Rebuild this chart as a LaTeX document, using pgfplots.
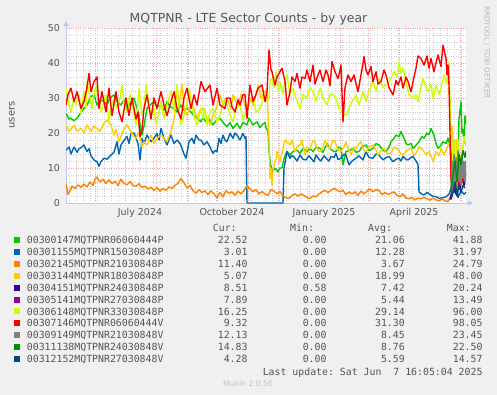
\documentclass[border=0pt]{standalone}
\usepackage{fontspec}
\setmainfont{DejaVu Sans}
\setmonofont{DejaVu Sans Mono}
\usepackage{pgfplots}
\pgfplotsset{compat=1.18}
\usetikzlibrary{arrows.meta}
\definecolor{bgc}{HTML}{F0F0F0}
\definecolor{txt}{HTML}{555555}
\definecolor{mgridc}{HTML}{EBA0A0}
\definecolor{gridc}{HTML}{D0D0D0}
\definecolor{axl}{HTML}{C4C4F4}
\definecolor{s1}{HTML}{00CC00}
\definecolor{s2}{HTML}{0066B3}
\definecolor{s3}{HTML}{FF8000}
\definecolor{s4}{HTML}{FFCC00}
\definecolor{s5}{HTML}{330099}
\definecolor{s6}{HTML}{990099}
\definecolor{s7}{HTML}{CCFF00}
\definecolor{s8}{HTML}{FF0000}
\definecolor{s9}{HTML}{808080}
\definecolor{s10}{HTML}{008F00}
\definecolor{s11}{HTML}{00487D}
\begin{document}
\begin{tikzpicture}
\fill[bgc] (0bp,0bp) rectangle (497bp,-395bp);
\begin{axis}[at={(66bp,-203bp)}, anchor=south west, scale only axis,
  width=400bp, height=175bp,
  xmin=0, xmax=400, ymin=0, ymax=50,
  axis background/.style={fill=white},
  axis x line=bottom, axis y line=left,
  axis line style={draw=axl, line width=0.8bp, -{Triangle[width=5bp,length=5bp]}, shorten >=-7bp},
  ytick={0,10,20,30,40,50},
  minor ytick={2,4,6,8,12,14,16,18,22,24,26,28,32,34,36,38,42,44,46,48},
  xtick={29,59,90,121,151,182,212,243,274,302,333,363,394},
  xticklabels={},
  minor xtick={3,10,...,399},
  extra x ticks={74,166,258,348},
  extra x tick labels={July 2024,October 2024,January 2025,April 2025},
  extra x tick style={grid=none},
  grid=both,
  major grid style={draw=mgridc, dotted, line width=0.6bp},
  minor grid style={draw=gridc, dotted, line width=0.6bp},
  major tick length=0pt, minor tick length=0pt,
  tick label style={font=\fontsize{9.5}{11}\selectfont, text=txt},
  yticklabel style={xshift=-2.5bp},
  xticklabel style={yshift=-1.5bp},
  /pgf/number format/assume math mode=true,
  every axis plot/.append style={no marks, line width=1.4bp, line join=round},
]
% 1 green
\addplot[s1] coordinates {(0,25.6)(3,24)(5,24.2)(8,23.5)(11,24.2)(14,25.5)(18,27)(21,28)(25,30.4)(28,30.9)(31,28)(34,29.5)(38,29)(41,28)(44,30)(48,30.9)(51,29)(55,28)(58,29.5)(61,27)(64,28.5)(68,29.9)(71,27)(73,25.1)(75,20)(76,19.4)(78,22)(81,27)(84,28)(88,29)(91,27.5)(95,28)(98,26.5)(101,29)(104,27.5)(108,27)(111,26)(115,28)(118,26.5)(121,27)(125,26)(128,25)(131,24.2)(135,23.2)(137,24.5)(140,23.2)(143,24)(147,22.3)(150,23.5)(154,24.2)(157,23)(161,21.8)(164,23)(167,21.3)(171,22.8)(174,21.3)(177,23)(181,22.3)(183,24.2)(187,22.3)(191,23.2)(194,21.5)(196,22.3)(199,23)(200,21.5)(202,20.4)(203,15)(204,12)(206,9)(209,9.9)(212,8.9)(214,10)(216,10)(218,12.8)(221,14.7)(224,13.7)(227,14.7)(231,15.1)(234,14.2)(237,15.6)(241,14.7)(244,15.6)(247,14.7)(250,16)(254,15.6)(257,14.5)(261,17)(264,15.5)(268,14.7)(270,14.7)(273,16)(275,15.6)(277,10.9)(280,14.7)(284,15)(287,15.6)(290,14.5)(293,14.7)(296,16)(300,16.6)(303,15)(307,15.6)(310,17)(313,16.6)(317,15)(320,14.7)(323,16)(325,17.5)(328,18.5)(330,19.4)(333,19)(335,20.4)(338,18.5)(340,17)(342,16.6)(345,17)(347,15.6)(350,16.5)(353,17.5)(356,19)(358,18.5)(361,20)(363,19.5)(365,21.3)(368,19.4)(370,17)(372,15.6)(375,16.5)(377,17.5)(380,17)(382,18.5)(384,16)(385,14.7)(387,8)(389,15)(390,18)(392,13)(393,24)(395,29)(396,20)(397,21)(398,17)(399,25)(400,22.52)};
% 2 blue
\addplot[s2] coordinates {(0,15.1)(3,16)(5,14)(8,16)(11,14.5)(13,15.5)(15,15.8)(18,16.6)(21,14.7)(23,15.5)(25,13.5)(28,12.3)(31,11.8)(33,10.5)(35,11.8)(38,12.8)(41,12.5)(45,13.7)(48,14.5)(51,17.5)(53,14)(55,16.6)(58,17.9)(61,19)(63,17)(65,19.9)(68,20)(70,18.5)(72,17)(74,12.3)(76,18.5)(78,17)(81,19.4)(85,17.5)(88,18.5)(91,19.9)(93,18)(95,21.3)(98,18.5)(101,16.6)(103,18)(105,19.4)(108,17)(111,18)(114,17)(116,15.6)(118,14)(120,12.8)(123,17.5)(126,18.5)(128,17)(130,19.4)(133,18)(135,18)(138,16.6)(141,17.5)(144,16)(147,14.2)(149,15)(151,14.7)(153,18.5)(155,17)(157,19.4)(159,18)(161,17.5)(164,19.9)(167,18.5)(169,20)(171,19.4)(174,18)(177,19.9)(179,18.5)(180,19)(181,0)(217,0)(218,10)(221,14.7)(224,12.8)(226,13.5)(228,13.2)(231,12)(234,13.7)(237,12.5)(240,12.3)(243,13.5)(245,12.8)(248,11.8)(250,13.7)(253,12.5)(255,12)(258,13.5)(260,12.8)(263,12)(265,13.3)(268,13)(270,14.2)(272,12.4)(275,12.8)(278,14)(280,13.7)(283,10.9)(286,12)(290,12.8)(293,13.5)(297,12.3)(300,14.7)(303,13)(307,12.8)(310,14)(313,13.7)(317,12.3)(320,13)(323,13.3)(325,12.5)(327,11.8)(330,12.5)(333,12.8)(335,12)(337,13.3)(340,12.5)(342,12.3)(345,13)(347,13.3)(350,12)(352,11)(353,3.2)(356,2.5)(358,2.3)(361,3)(363,2.7)(366,2)(370,1.8)(373,1.3)(377,1.5)(380,1.8)(383,2.5)(386,5)(389,3)(390,7)(392,1.5)(395,3.5)(398,2.5)(400,3.01)};
% 3 orange
\addplot[s3] coordinates {(0,5.5)(2,2.5)(4,3.5)(6,4.8)(9,4.2)(12,5.2)(15,4.5)(18,5.4)(21,4.6)(24,6)(27,5)(29,6.8)(31,7.4)(34,6)(37,6.8)(40,5.6)(43,6.6)(46,5.5)(49,6.2)(52,5)(55,6.8)(58,5.6)(61,5.2)(64,6.1)(67,5)(70,4.8)(73,5.5)(76,4.4)(79,4.8)(82,4)(85,4.5)(88,3.6)(91,4.4)(94,3.4)(97,4.2)(100,3.6)(103,4.6)(106,4.2)(109,5)(112,5.6)(115,7)(118,5.8)(121,4.4)(124,5)(127,3.5)(130,2.8)(133,3.8)(136,3)(139,3.5)(142,2.4)(145,3.5)(148,2.6)(151,1.5)(154,3)(157,1.8)(160,3.5)(163,2.8)(166,3.2)(169,2.2)(172,3.4)(175,2.6)(178,3.6)(181,5)(184,4)(187,3.2)(190,3.8)(193,2.6)(196,3.3)(199,2.6)(202,2.2)(205,3.8)(208,3.4)(211,2.6)(214,3.3)(217,2)(220,1.5)(223,1.3)(226,2.2)(229,2.6)(232,2)(235,2.6)(238,2.2)(241,1.6)(244,1.3)(247,2)(250,1.8)(253,2.6)(256,3.2)(259,3.6)(262,3)(265,3.6)(268,4.2)(271,3.7)(274,3.2)(277,3.6)(280,2.4)(283,3.2)(286,2.6)(289,3.2)(292,2.2)(295,3.4)(298,2.6)(301,3.4)(304,4)(307,3.2)(310,3.8)(313,3.6)(316,2.4)(319,3)(322,2.4)(325,2.8)(328,3.2)(331,2.2)(334,1.8)(337,2.6)(340,1.4)(343,1.2)(346,1.6)(349,0.9)(352,1.4)(355,1.2)(358,1.6)(361,1.2)(364,0.8)(367,1.4)(370,0.9)(373,0.6)(376,1.2)(379,0.6)(382,0.4)(385,2)(387,6)(389,12)(391,16)(393,9)(395,13)(397,8)(399,11.4)};
% 4 gold
\addplot[s4] coordinates {(0,22.3)(3,20.4)(5,21)(8,22.3)(11,20.5)(15,21.3)(18,20)(21,22.3)(25,20.4)(28,22)(31,21.3)(34,20.5)(38,22.8)(41,23.7)(45,22.3)(48,19.4)(50,21)(53,17.5)(55,19)(58,21.3)(61,22.3)(65,20.4)(68,19)(70,18.5)(72,20)(74,19.4)(76,16)(78,17.5)(81,16.6)(85,19.4)(88,17)(91,18.5)(95,19.4)(98,18.5)(101,17.5)(105,20.4)(108,24)(111,33)(113,28)(116,34)(118,27)(121,25)(125,28)(128,27)(131,24.2)(135,27)(137,27)(141,24.2)(144,22.3)(147,25)(149,26)(152,29)(154,30.9)(157,28)(160,30)(162,29)(165,27)(167,30.9)(170,29)(172,28)(175,31)(177,29.9)(179,28)(181,27)(184,30)(187,28)(190,31)(192,33.7)(195,30)(197,30.9)(199,32)(201,31.8)(202,25)(203,18)(204,7)(205,9.9)(206,5.1)(207,9)(208,11)(210,12.8)(211,14.7)(214,11.8)(217,15.6)(219,18)(221,17.5)(224,16.6)(226,18)(229,14.7)(231,16)(234,16.6)(236,18)(239,13.7)(241,16)(244,15.6)(247,17.8)(249,17.5)(252,15)(254,14.7)(257,16)(259,18)(262,16)(264,15.6)(267,18)(269,17.5)(272,15.2)(275,14.7)(278,16)(280,17.5)(283,15)(285,13.7)(288,16)(290,15.6)(293,17)(295,17.5)(298,15)(300,14.7)(303,16)(307,16.6)(310,15)(312,13.7)(315,15)(318,15.6)(321,14)(325,14.2)(328,16)(332,15.2)(335,14)(337,13.7)(341,15)(345,15.6)(348,13.5)(350,14.2)(353,16)(357,15.2)(360,13.8)(363,14.7)(365,13.5)(367,11.8)(370,14.7)(373,13.5)(375,15.6)(378,13.7)(380,15)(382,16.6)(384,17.5)(386,22)(388,14)(390,18)(392,10)(394,13)(396,6)(398,8)(400,5.07)};
% 5 purple
\addplot[s5] coordinates {(384,1)(386,3)(388,5)(390,2.5)(392,6)(394,4)(396,7)(398,5)(400,8.51)};
% 6 magenta
\addplot[s6] coordinates {(385,2)(387,5)(389,9)(391,4)(393,11)(395,6)(397,9)(399,7.89)};
% 7 yellow-green
\addplot[s7] coordinates {(0,32.8)(3,28)(5,26)(8,30)(10,28)(13,31)(15,25.6)(18,31.8)(20,27)(21,34.7)(24,30)(26,27)(28,31)(30,33.7)(33,28)(35,26)(38,29)(40,30.9)(43,23.2)(45,27)(48,30)(51,27)(54,30)(56,33.7)(58,29)(61,26)(64,31)(66,29)(68,25)(70,22.3)(73,32.8)(76,25)(78,27)(80,33.7)(83,28)(85,25)(88,27)(90,22.3)(93,26)(95,29)(98,24.2)(101,28)(105,31.8)(108,27)(111,33.7)(113,27)(115,22.3)(118,25)(120,27)(123,32.8)(126,28)(128,25)(131,22.3)(135,27)(137,24.2)(139,27)(141,22.3)(144,26)(147,27)(151,23)(154,25)(157,29)(161,28)(164,25)(167,23.2)(170,27)(174,28)(177,24)(181,26)(184,29)(187,30)(190,26)(194,27)(197,30)(201,29)(203,30)(204,35)(206,35.6)(208,33)(210,37.5)(212,32)(214,34.7)(217,31)(219,35)(221,36.6)(224,31)(227,32.8)(230,30)(234,27)(237,31)(241,30)(244,33)(247,31.8)(250,29)(254,32.8)(257,30)(261,28)(264,31)(267,30.9)(270,30)(273,27)(277,26)(280,25)(283,27)(286,29)(290,30.9)(293,28)(297,31.8)(300,29)(303,32)(307,34.7)(310,32)(313,35.6)(317,33)(320,33.7)(324,35)(328,37.5)(331,36)(333,40.4)(335,37)(337,38.5)(340,34.7)(343,31)(347,29.9)(350,31)(352,29)(355,33)(357,35.6)(360,33)(362,31.8)(365,34)(367,29.9)(370,33.7)(373,31)(375,32.8)(378,36.6)(381,34)(383,40.4)(384,30)(385,20)(387,12)(389,18)(390,9)(392,18)(394,12)(396,14)(398,19)(400,16.25)};
% 8 red
\addplot[s8] coordinates {(0,28)(2,31)(5,32.8)(8,29)(11,31.8)(15,27)(18,29)(21,33)(23,37)(25,31.8)(28,34.7)(31,36)(33,27)(36,31.8)(40,26)(43,32.8)(46,25)(50,31.8)(53,26)(56,23.2)(60,30)(63,25)(66,30)(70,24)(72,26)(74,19)(76,21)(78,27)(81,30.9)(85,24)(88,30)(91,27)(95,31.8)(98,28)(101,25)(105,29)(108,31.8)(111,27)(115,24)(118,30)(121,32.8)(125,27)(128,30.9)(131,28)(135,34.7)(139,31.8)(144,33.7)(147,28)(151,32.8)(154,28)(159,27)(161,30)(164,30)(166,27.5)(169,26)(172,29.5)(174,28)(177,31)(179,30.9)(181,24.2)(184,33.7)(187,29)(190,31)(192,32.8)(196,33.7)(199,29)(201,31.8)(203,43.7)(205,38)(206,37.5)(209,33.7)(211,36)(214,37.5)(216,38.5)(219,34.7)(221,28)(224,31.8)(226,36)(229,34.7)(231,37)(234,32.8)(236,36)(239,35.6)(241,38)(244,34.7)(247,39.4)(249,34)(252,36.6)(254,38)(257,34.7)(260,38)(262,36.6)(264,33.5)(266,40.4)(269,37.5)(272,35.6)(273,36.6)(275,39.4)(277,23.2)(279,33)(282,36.6)(285,34.7)(288,36.6)(292,31.8)(295,36.6)(298,41.8)(300,38)(302,36.6)(305,39)(307,34.7)(310,37.5)(312,34)(315,34.7)(318,38)(320,36.6)(323,33)(327,30.9)(330,35)(332,33.7)(335,36)(337,32.8)(340,36)(342,34.7)(345,31.8)(348,36)(350,38.5)(352,42)(355,41.3)(358,39.4)(361,42)(363,38.5)(365,41.3)(368,37.5)(370,40)(372,42.3)(375,39)(377,45.1)(380,41.3)(381,36.6)(382,39.4)(383,33.7)(384,20)(385,6)(387,9)(389,4)(391,8)(393,5)(395,10)(397,6)(399,9.32)};
% 9 grey
\addplot[s9] coordinates {(385,4)(386,12)(387,3)(388,14)(389,5)(390,13)(391,4)(392,15)(393,6)(394,13)(395,5)(396,14)(397,7)(398,12)(399,6)(400,12.13)};
% 10 dark green
\addplot[s10] coordinates {(385,3)(387,8)(389,12)(391,6)(393,14)(395,11)(397,15)(399,13)(400,14.83)};
% 11 dark blue
\addplot[s11] coordinates {(385,1)(387,3)(389,6)(391,2)(393,5)(395,3)(397,5)(399,4.28)};
\end{axis}
% title and labels
\node[text=txt, font=\fontsize{12.5}{14}\selectfont] at (248.5bp,-19bp) {MQTPNR - LTE Sector Counts - by year};
\node[text=txt, font=\fontsize{10}{12}\selectfont, rotate=90] at (12bp,-115bp) {users};
\node[text={rgb,255:red,185;green,185;blue,185}, font=\fontsize{7.2}{8}\selectfont, rotate=-90] at (487bp,-52.5bp) {RRDTOOL / TOBI OETIKER};
% legend
\begin{scope}[every node/.style={inner sep=0, text=txt, font=\ttfamily\fontsize{9.9}{11}\selectfont}]
\node[anchor=base west] at (212.7bp,-231.9bp) {Cur:};
\node[anchor=base west] at (290bp,-231.9bp) {Min:};
\node[anchor=base west] at (368bp,-231.9bp) {Avg:};
\node[anchor=base west] at (446.7bp,-231.9bp) {Max:};
\foreach \c/\n/\cu/\mi/\av/\ma [count=\k from 0] in {
 s1/00300147MQTPNR06060444P/22.52/0.00/21.06/41.88,
 s2/00301155MQTPNR15030848P/3.01/0.00/12.28/31.97,
 s3/00302145MQTPNR21030848P/11.40/0.00/3.67/24.79,
 s4/00303144MQTPNR18030848P/5.07/0.00/18.99/48.00,
 s5/00304151MQTPNR24030848P/8.51/0.58/7.42/20.24,
 s6/00305141MQTPNR27030848P/7.89/0.00/5.44/13.49,
 s7/00306148MQTPNR33030848P/16.25/0.00/29.14/96.00,
 s8/00307146MQTPNR06060444V/9.32/0.00/31.30/98.05,
 s9/00309149MQTPNR21030848V/12.13/0.00/8.45/23.45,
 s10/00311138MQTPNR24030848V/14.83/0.00/8.76/22.50,
 s11/00312152MQTPNR27030848V/4.28/0.00/5.59/14.57}{
  \pgfmathsetmacro{\yy}{-240-11.9*\k}
  \fill[\c] (14bp,\yy bp+3bp) rectangle (20bp,\yy bp-3bp);
  \node[anchor=base west] at (26.7bp,\yy bp-3.6bp) {\n};
  \node[anchor=base east] at (247.7bp,\yy bp-3.6bp) {\cu};
  \node[anchor=base east] at (326.7bp,\yy bp-3.6bp) {\mi};
  \node[anchor=base east] at (405bp,\yy bp-3.6bp) {\av};
  \node[anchor=base east] at (482.7bp,\yy bp-3.6bp) {\ma};
}
\node[anchor=base east] at (482.7bp,-375.3bp) {Last update: Sat Jun~~7 16:05:04 2025};
\end{scope}
\node[text={rgb,255:red,195;green,195;blue,195}, font=\fontsize{7.6}{9}\selectfont] at (248bp,-384bp) {Munin 2.0.56};
\end{tikzpicture}
\end{document}
